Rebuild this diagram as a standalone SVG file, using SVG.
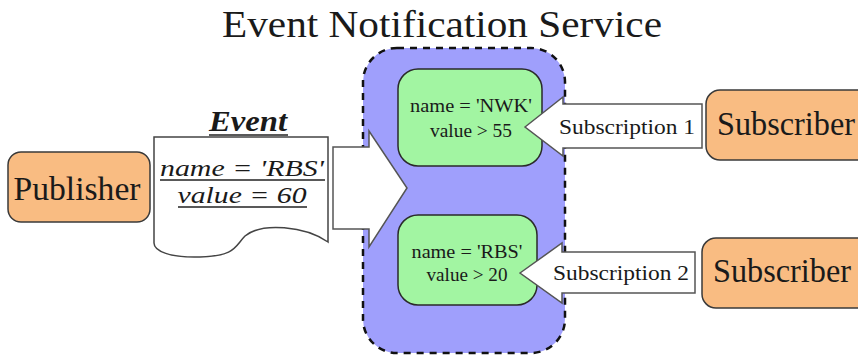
<svg xmlns="http://www.w3.org/2000/svg" width="858" height="358" viewBox="0 0 858 358">
<style>
text{font-family:"Liberation Serif",Tinos,"Times New Roman","Nimbus Roman","DejaVu Serif","Noto Serif",serif;fill:#1a1a1a}
.orange{fill:#f9bc82;stroke:#3a3a3a;stroke-width:1.5}
.green{fill:#a2f5a2;stroke:#2a2a2a;stroke-width:1.5}
.arrow{fill:#ffffff;stroke:#555555;stroke-width:1.5;stroke-linejoin:miter}
.big{font-size:33px}
.cond{font-size:18px;text-anchor:middle}
.sub{font-size:21px;text-anchor:middle}
</style>
<rect width="858" height="358" fill="#ffffff"/>
<text x="442" y="37" font-size="38" text-anchor="middle" textLength="440" lengthAdjust="spacingAndGlyphs">Event Notification Service</text>

<g id="service">
<rect x="363" y="48" width="202" height="305" rx="34" ry="34" fill="#9f9ffc" stroke="#111111" stroke-width="2.5" stroke-dasharray="7,6"/>
</g>

<g id="filter-nwk">
<rect class="green" x="398" y="69" width="144" height="97" rx="20" ry="20"/>
<text class="cond" x="471" y="112" textLength="122" lengthAdjust="spacingAndGlyphs">name = 'NWK'</text>
<text class="cond" x="471" y="137" textLength="82" lengthAdjust="spacingAndGlyphs">value &gt; 55</text>
</g>

<g id="filter-rbs">
<rect class="green" x="398" y="215" width="139" height="90" rx="20" ry="20"/>
<text class="cond" x="467" y="258" textLength="111" lengthAdjust="spacingAndGlyphs">name = 'RBS'</text>
<text class="cond" x="467" y="281" textLength="81" lengthAdjust="spacingAndGlyphs">value &gt; 20</text>
</g>

<g id="publisher">
<rect class="orange" x="8" y="152" width="142" height="70" rx="13" ry="13"/>
<text class="big" x="77" y="200" text-anchor="middle" textLength="127" lengthAdjust="spacingAndGlyphs">Publisher</text>
</g>

<g id="event">
<path d="M154,137 H328 V242 C305,226 262,222 245,236 C235,246 236,256 200,257 C170,258 154,251 154,243 Z" fill="#ffffff" stroke="#444444" stroke-width="1.5"/>
<text x="248" y="131" font-size="29" font-weight="bold" font-style="italic" text-anchor="middle" textLength="78" lengthAdjust="spacingAndGlyphs">Event</text>
<line x1="209" y1="135" x2="288" y2="135" stroke="#222" stroke-width="1.5"/>
<text x="242" y="176" font-size="24" font-style="italic" text-anchor="middle" textLength="164" lengthAdjust="spacingAndGlyphs">name = 'RBS'</text>
<line x1="160" y1="180" x2="325" y2="180" stroke="#222" stroke-width="1.5"/>
<text x="242" y="203" font-size="24" font-style="italic" text-anchor="middle" textLength="129" lengthAdjust="spacingAndGlyphs">value = 60</text>
<line x1="178" y1="207" x2="307" y2="207" stroke="#222" stroke-width="1.5"/>
</g>

<g id="subscriber-1">
<rect class="orange" x="706" y="90" width="170" height="70" rx="14" ry="14"/>
<text class="big" x="717" y="135" textLength="138" lengthAdjust="spacingAndGlyphs">Subscriber</text>
</g>

<g id="subscriber-2">
<rect class="orange" x="702" y="238" width="170" height="70" rx="14" ry="14"/>
<text class="big" x="713" y="282" textLength="138" lengthAdjust="spacingAndGlyphs">Subscriber</text>
</g>

<g id="connectors">
<path class="arrow" d="M333,147 H369 V131 L407,188 L369,247 V229 H333 Z"/>
<path class="arrow" d="M525,127 L563,97 V104 H702 V148 H563 V156 Z"/>
<text class="sub" x="627" y="134" textLength="136" lengthAdjust="spacingAndGlyphs">Subscription 1</text>
<path class="arrow" d="M520,273 L562,243 V252 H695 V293 H562 V303 Z"/>
<text class="sub" x="621" y="280" textLength="136" lengthAdjust="spacingAndGlyphs">Subscription 2</text>
</g>
</svg>
